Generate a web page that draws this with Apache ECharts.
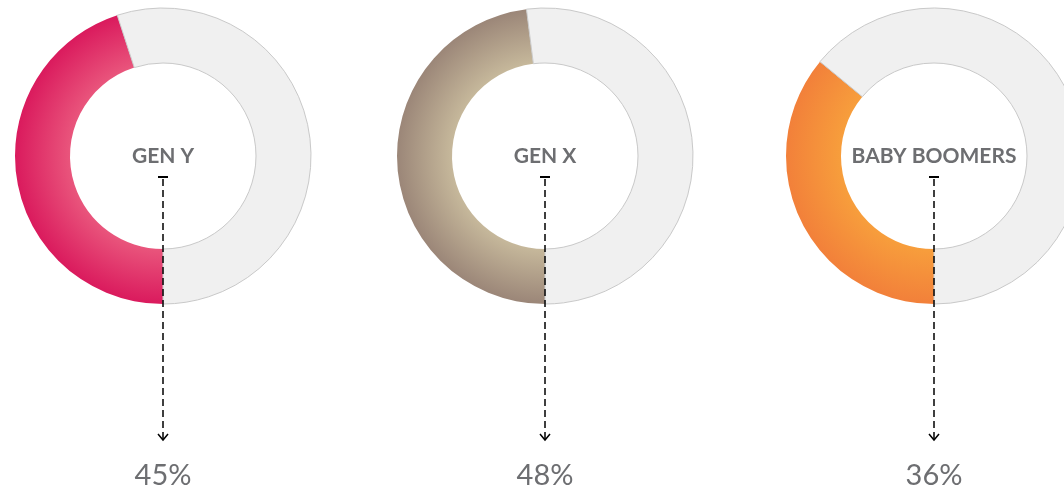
<!DOCTYPE html>
<html>
<head>
<meta charset="utf-8">
<script src="https://cdn.jsdelivr.net/npm/echarts@6/dist/echarts.min.js"></script>
<style>
  html, body { margin: 0; padding: 0; background: #fff; }
  #main { width: 1064px; height: 492px; }
</style>
</head>
<body>
<div id="main"></div>
<script>
// data
let names = ['GEN Y', 'GEN X', 'BABY BOOMERS'];
let values = [45, 48, 36];
let lightColors = ['#e9557c', '#c6b89b', '#f79e3c'];
let darkColors = ['#da1a5d', '#9b8678', '#f2803a'];

// layout
let centersX = [163, 545, 934];
let centerY = 156;
let rIn = 93;
let rOut = 148;
let textColor = '#6d6e71';

let myChart = echarts.init(document.getElementById('main'));

let series = [];
let graphic = [];

for (let i = 0; i < names.length; i++) {
    let cx = centersX[i];
    series.push({
        type: 'pie',
        center: [cx, centerY],
        radius: [rIn, rOut],
        startAngle: 270,
        clockwise: true,
        silent: true,
        animation: false,
        labelLine: { show: false },
        data: [{
            value: values[i],
            name: names[i],
            label: {
                show: true,
                position: 'center',
                formatter: '{b}',
                color: textColor,
                fontFamily: 'Lato',
                fontWeight: 'bold',
                fontSize: 21,
                padding: [3, 0, 0, 0]
            },
            itemStyle: {
                color: {
                    type: 'radial',
                    x: cx, y: centerY, r: rOut,
                    global: true,
                    colorStops: [
                        { offset: 0, color: lightColors[i] },
                        { offset: rIn / rOut, color: lightColors[i] },
                        { offset: 1, color: darkColors[i] }
                    ]
                },
                borderColor: 'rgba(0,0,0,0)',
                borderWidth: 0
            }
        }, {
            value: 100 - values[i],
            name: '',
            label: { show: false },
            itemStyle: {
                color: '#f0f0f0',
                borderColor: '#c9c9c9',
                borderWidth: 1
            }
        }]
    });

    // 指示线和百分比
    graphic.push({
        type: 'line',
        shape: { x1: cx - 5, y1: 177, x2: cx + 5, y2: 177 },
        style: { stroke: '#000', lineWidth: 2 },
        z: 10
    }, {
        type: 'line',
        shape: { x1: cx, y1: 179, x2: cx, y2: 439 },
        style: { stroke: '#000', lineWidth: 1.5, lineDash: [7, 4] },
        z: 10
    }, {
        type: 'polyline',
        shape: { points: [[cx - 5, 434], [cx, 440], [cx + 5, 434]] },
        style: { stroke: '#000', lineWidth: 1.5, fill: null },
        z: 10
    }, {
        type: 'text',
        x: cx,
        y: 476,
        style: {
            text: values[i] + '%',
            fill: textColor,
            font: '29px Lato',
            textAlign: 'center',
            textVerticalAlign: 'middle'
        },
        z: 10
    });
}

let option = {
    backgroundColor: '#fff',
    tooltip: { show: false },
    legend: { show: false },
    series: series,
    graphic: graphic
};

myChart.setOption(option);
</script>
</body>
</html>
